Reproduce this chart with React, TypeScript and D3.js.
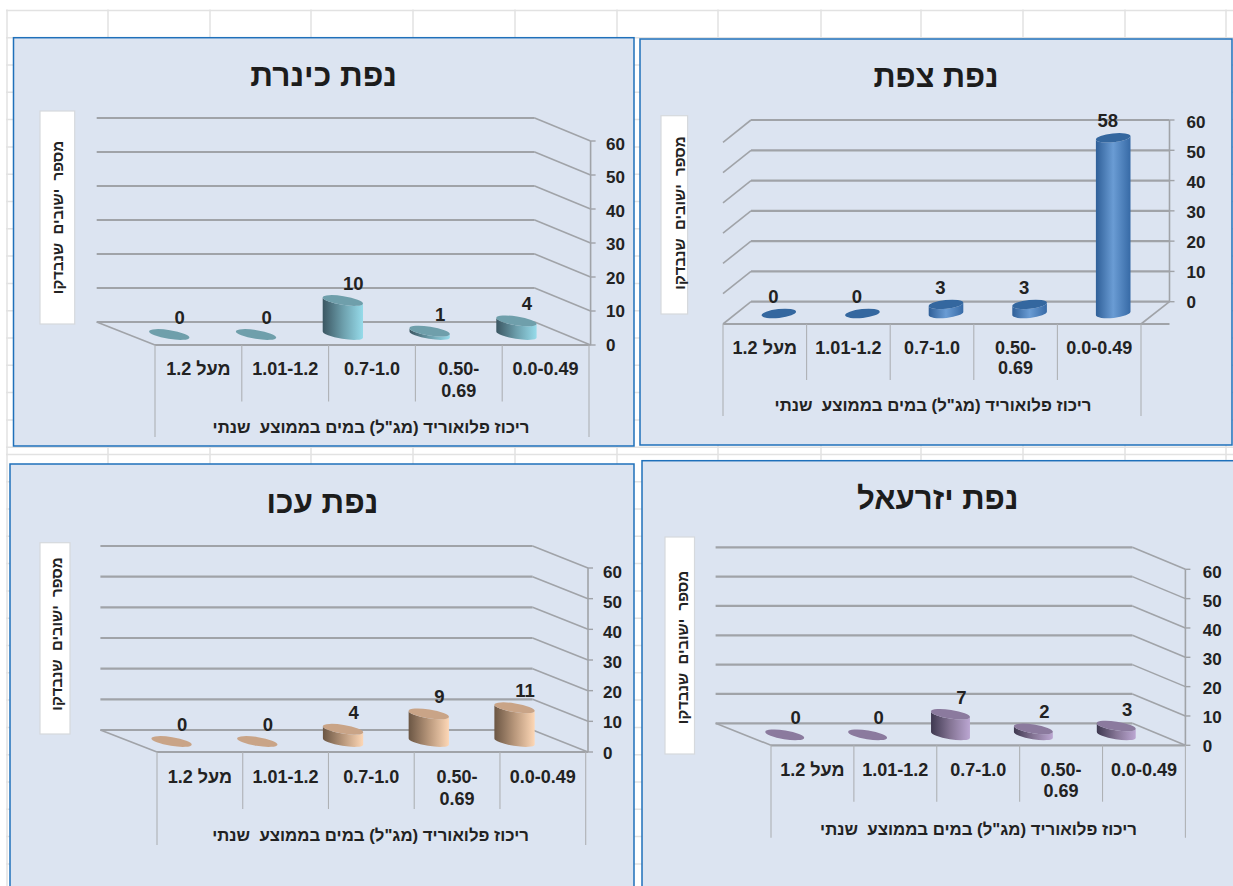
import React from "react";
import * as d3 from "d3";

const categories = ["מעל 1.2", "1.01-1.2", "0.7-1.0", "0.50-|0.69", "0.0-0.49"];
const ticks = [0, 10, 20, 30, 40, 50, 60];
const tzfatValues = [0, 0, 3, 3, 58];
const kinneretValues = [0, 0, 10, 1, 4];
const akkoValues = [0, 0, 4, 9, 11];
const jezreelValues = [0, 0, 7, 2, 3];
const yTitle = "מספר  ישובים  שנבדקו";
const xTitle = "ריכוז פלואוריד (מג\"ל) במים בממוצע  שנתי";
const gridCols = [7, 108, 210, 311, 413, 515, 617, 718, 821, 921, 1023, 1125, 1226];
const gridRowsTop = d3.range(10.4, 450, 27.3);
const gridRowsBottom = d3.range(454.4, 886, 27.3);

const FONT = "'Liberation Sans', Arial, sans-serif";
const TEXT = "#222222";
const LINE = "#a0a3a8";

type Panel = {
  id: string; title: string; values: number[];
  box: [number, number, number, number];
  backL: number; backR: number; frontL: number; frontR: number; axisOff: number;
  y0: number; y60: number; floor: number; wallLeft: boolean;
  sepBottom: number; outerBottom: number; labelY: number; label2Y: number;
  xTitleX: number; xTitleY: number; tickX: number; tickY0: number; tickY60: number;
  ybox: [number, number, number, number]; yTitleX: number; yTitleY: number;
  titleX: number; titleY: number; titleSize: number;
  rx: number; tilt: number; valueDx: number;
  side: [string, string, string]; top: string;
};

const panels: Panel[] = [
  {
    id: "tz", title: "נפת צפת", values: tzfatValues, box: [640, 39, 592, 406],
    backL: 751, backR: 1169.5, frontL: 723, frontR: 1141, axisOff: 0, y0: 301.7, y60: 120, floor: 324, wallLeft: true,
    sepBottom: 380, outerBottom: 416, labelY: 348, label2Y: 368, xTitleX: 933, xTitleY: 405.5,
    tickX: 1186.5, tickY0: 302, tickY60: 122, ybox: [661, 115.7, 26.6, 198.3], yTitleX: 679, yTitleY: 213,
    titleX: 936, titleY: 76.5, titleSize: 30.8, rx: 17.4, tilt: -6, valueDx: -5.5,
    side: ["#2f5f98", "#6a9cd4", "#376aa6"], top: "#34679f",
  },
  {
    id: "ki", title: "נפת כינרת", values: kinneretValues, box: [13.5, 37.7, 620.5, 408.3],
    backL: 96.7, backR: 534.7, frontL: 155, frontR: 589, axisOff: 1.6, y0: 322, y60: 118, floor: 345, wallLeft: false,
    sepBottom: 401.6, outerBottom: 437, labelY: 369, label2Y: 390.6, xTitleX: 371, xTitleY: 427.7,
    tickX: 606, tickY0: 345, tickY60: 144, ybox: [40, 111, 34.7, 213], yTitleX: 57, yTitleY: 217.5,
    titleX: 323.7, titleY: 75, titleSize: 31.7, rx: 20.4, tilt: 9, valueDx: 10.5,
    side: ["#3b5662", "#6c9eab", "#96dbea"], top: "#6f9fab",
  },
  {
    id: "ak", title: "נפת עכו", values: akkoValues, box: [10, 464, 624, 440],
    backL: 100.4, backR: 532.6, frontL: 157, frontR: 585.7, axisOff: 2.3, y0: 730, y60: 546, floor: 752, wallLeft: false,
    sepBottom: 809, outerBottom: 845, labelY: 776.7, label2Y: 798.7, xTitleX: 370.6, xTitleY: 835.7,
    tickX: 603, tickY0: 753, tickY60: 572, ybox: [40, 542.7, 30, 191.3], yTitleX: 56, yTitleY: 634,
    titleX: 322.4, titleY: 501.7, titleSize: 31.5, rx: 20.4, tilt: 9, valueDx: 10.5,
    side: ["#6b5644", "#b8977b", "#fdd7b6"], top: "#c9a487",
  },
  {
    id: "je", title: "נפת יזרעאל", values: jezreelValues, box: [642, 460.7, 620, 440],
    backL: 715.6, backR: 1132.4, frontL: 771, frontR: 1185.4, axisOff: 0, y0: 723.3, y60: 547.3, floor: 745.3, wallLeft: false,
    sepBottom: 801.7, outerBottom: 837.7, labelY: 770, label2Y: 790.7, xTitleX: 978.5, xTitleY: 829,
    tickX: 1202.8, tickY0: 746, tickY60: 572.3, ybox: [665, 537, 29.5, 217], yTitleX: 682, yTitleY: 647.5,
    titleX: 937.7, titleY: 498, titleSize: 31.2, rx: 19.7, tilt: 9, valueDx: 11,
    side: ["#3e3850", "#857595", "#bba6d2"], top: "#8b7a9e",
  },
];

function Cylinder({ cx, base, top, rx, tilt, fill, topFill, showSide }: any) {
  const t = (tilt * Math.PI) / 180;
  const ry = 4.4;
  const ex = rx * Math.cos(t);
  const ey = rx * Math.sin(t);
  const side = `M${cx - ex},${top - ey} L${cx - ex},${base - ey} A${rx},${ry} ${tilt} 0 0 ${cx + ex},${base + ey} L${cx + ex},${top + ey} A${rx},${ry} ${tilt} 0 1 ${cx - ex},${top - ey} Z`;
  return (
    <g>
      {showSide && <path d={side} fill={fill} />}
      <ellipse cx={cx} cy={top} rx={rx} ry={ry} fill={topFill} transform={`rotate(${tilt} ${cx} ${top})`} />
    </g>
  );
}

function ChartPanel({ p }: { p: Panel }) {
  const y = d3.scaleLinear().domain([0, 60]).range([p.y0, p.y60]);
  const tickY = d3.scaleLinear().domain([0, 60]).range([p.tickY0, p.tickY60]);
  const x = d3.scaleBand<string>().domain(categories).range([p.frontL, p.frontR]);
  const dx = p.backL - p.frontL;
  const dy = p.floor - p.y0;
  const base = p.floor - 10.5;
  const axisX = p.wallLeft ? p.backR : p.frontR + p.axisOff;
  const seps = [...categories.map((c) => x(c) as number), p.frontR];
  const axisY = (v: number) => (p.wallLeft ? y(v) : y(v) + dy);
  const line = (a: number, b: number, c: number, d: number, w: number, key: string, col = LINE) => (
    <line key={key} x1={a} y1={b} x2={c} y2={d} stroke={col} strokeWidth={w} />
  );
  return (
    <g fontFamily={FONT} fill={TEXT}>
      <defs>
        <linearGradient id={`side-${p.id}`} x1="0" x2="1" y1="0" y2="0">
          <stop offset="0" stopColor={p.side[0]} />
          <stop offset="0.5" stopColor={p.side[1]} />
          <stop offset="1" stopColor={p.side[2]} />
        </linearGradient>
      </defs>
      <rect x={p.box[0]} y={p.box[1]} width={p.box[2]} height={p.box[3]} fill="#dce4f1" stroke="#1f70ba" strokeWidth={1.5} />
      <text x={p.titleX} y={p.titleY} fontSize={p.titleSize} fontWeight="bold" textAnchor="middle" dominantBaseline="central" direction="rtl" fill="#1c1c1c">{p.title}</text>

      <rect x={p.ybox[0]} y={p.ybox[1]} width={p.ybox[2]} height={p.ybox[3]} fill="#ffffff" stroke="#d6d9dd" strokeWidth={1.2} />
      <text transform={`translate(${p.yTitleX},${p.yTitleY}) rotate(-90)`} fontSize={15} fontWeight="bold" textAnchor="middle" dominantBaseline="central" direction="rtl" style={{ whiteSpace: "pre" }}>{yTitle}</text>

      {ticks.map((v) => (
        <g key={v}>
          {line(p.backL, y(v), p.backR, y(v), 2.2, "l")}
          {p.wallLeft
            ? line(p.frontL, y(v) + dy, p.backL, y(v), 1.6, "d")
            : line(p.backR, y(v), axisX, y(v) + dy, 1.6, "d")}
          {line(axisX, axisY(v), axisX + 5, axisY(v), 1.4, "t")}
          <text x={p.tickX} y={tickY(v)} fontSize={17} fontWeight="bold" dominantBaseline="central">{v}</text>
        </g>
      ))}
      {line(axisX, axisY(60), axisX, axisY(0), 1.6, "axis")}
      {p.wallLeft
        ? line(p.frontR, p.floor, p.backR, p.y0, 1.6, "fe")
        : line(p.backL, p.y0, p.frontL, p.floor, 1.6, "fe")}
      {line(p.frontL, p.floor, axisX, p.floor, 2.2, "front")}

      {seps.map((s, i) => line(s, p.floor, s, i === 0 || i === seps.length - 1 ? p.outerBottom : p.sepBottom, 1.1, `sep${i}`, "#aeb1b5"))}

      {categories.map((c, i) => {
        const cx = (x(c) as number) + x.bandwidth() / 2 + dx / 2;
        const top = base - (y(0) - y(p.values[i]));
        const lines = c.split("|");
        const lx = (x(c) as number) + x.bandwidth() / 2;
        return (
          <g key={c}>
            <Cylinder cx={cx} base={base} top={top} rx={p.rx} tilt={p.tilt} fill={`url(#side-${p.id})`} topFill={p.top} showSide={p.values[i] > 0} />
            <text x={cx + p.valueDx} y={top - 17} fontSize={18.5} fontWeight="bold" textAnchor="middle" dominantBaseline="central">{p.values[i]}</text>
            <text x={lx} y={p.labelY} fontSize={18} fontWeight="bold" textAnchor="middle" dominantBaseline="central" direction={i === 0 ? "rtl" : "ltr"}>{lines[0]}</text>
            {lines[1] && <text x={lx} y={p.label2Y} fontSize={18} fontWeight="bold" textAnchor="middle" dominantBaseline="central">{lines[1]}</text>}
          </g>
        );
      })}

      <text x={p.xTitleX} y={p.xTitleY} fontSize={16.8} fontWeight="bold" textAnchor="middle" dominantBaseline="central" direction="rtl" style={{ whiteSpace: "pre" }}>{xTitle}</text>
    </g>
  );
}

export default function App() {
  return (
    <svg width={1233} height={886} style={{ position: "absolute", left: 0, top: 0, background: "#fff" }}>
      {gridCols.map((c) => (
        <line key={c} x1={c} x2={c} y1={9.5} y2={886} stroke="#e2e2e2" strokeWidth={1.5} />
      ))}
      {[...gridRowsTop, ...gridRowsBottom].map((r) => (
        <line key={r} x1={6} x2={1233} y1={r} y2={r} stroke="#e2e2e2" strokeWidth={1.5} />
      ))}
      {panels.map((p) => (
        <ChartPanel key={p.id} p={p} />
      ))}
    </svg>
  );
}
